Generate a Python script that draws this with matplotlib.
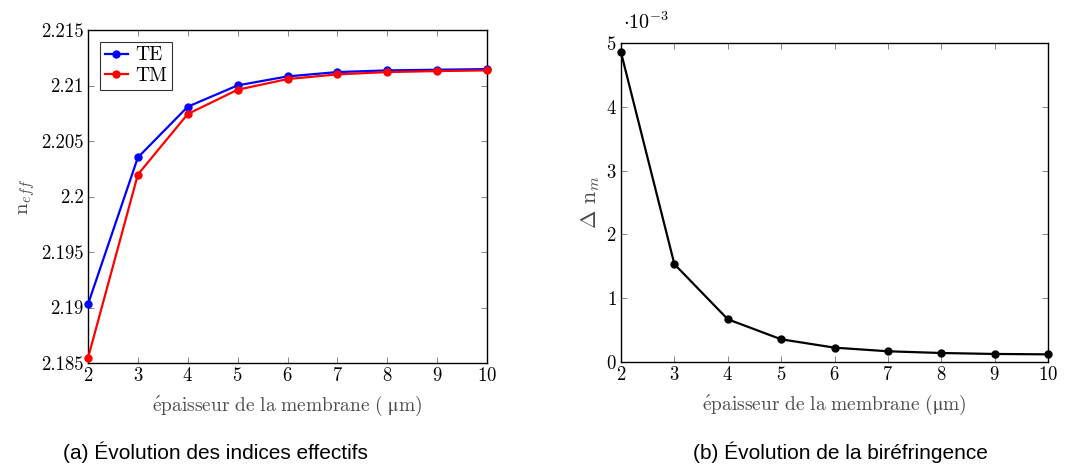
import matplotlib
matplotlib.use('Agg')
import matplotlib.pyplot as plt
from matplotlib.ticker import FuncFormatter

plt.rcParams['font.family'] = ['cmr10', 'STIXGeneral']
plt.rcParams['mathtext.fontset'] = 'cm'
plt.rcParams['axes.formatter.use_mathtext'] = True

# membrane thickness (um)
thickness = [2, 3, 4, 5, 6, 7, 8, 9, 10]
# effective indices
n_te = [2.19029, 2.20352, 2.20809, 2.21001, 2.21082, 2.21121, 2.21136, 2.21142, 2.21148]
n_tm = [2.18545, 2.20198, 2.20743, 2.20962, 2.21058, 2.21100, 2.21121, 2.21130, 2.21136]
# birefringence, in units of 1e-3
dn_e3 = [4.853, 1.534, 0.670, 0.356, 0.225, 0.168, 0.141, 0.126, 0.120]

fig = plt.figure(figsize=(10.82, 4.69), dpi=100)
W, H = 1082, 469

def style(ax):
    ax.tick_params(direction='in', top=True, right=True, length=4, width=0.6,
                   labelsize=13.5, pad=3, color='0.45')
    for s in ax.spines.values():
        s.set_linewidth(1.0)

fmt = FuncFormatter(lambda v, p: ('%.3f' % v).rstrip('0').rstrip('.'))
xlab = r'$\mathrm{\acute{e}paisseur\ de\ la\ membrane\ (%s\mu m)}$'

# (a)
ax1 = fig.add_axes([88 / W, 1 - 363 / H, (487 - 88) / W, (363 - 30) / H])
ax1.plot(thickness, n_te, '-o', color='blue', lw=1.6, ms=5, label='TE', clip_on=False, zorder=3)
ax1.plot(thickness, n_tm, '-o', color='red', lw=1.6, ms=5, label='TM', clip_on=False, zorder=3)
ax1.set_xlim(2, 10)
ax1.set_ylim(2.185, 2.215)
ax1.set_xticks(thickness)
ax1.set_yticks([2.185, 2.19, 2.195, 2.2, 2.205, 2.21, 2.215])
ax1.yaxis.set_major_formatter(fmt)
style(ax1)
ax1.set_ylabel(r'$\mathrm{n}_{eff}$', fontsize=15, color='0.3', labelpad=3)
ax1.set_xlabel((xlab % r'\ ').replace(r'\mu', 'μ'), fontsize=14, color='0.3', labelpad=6)
leg = ax1.legend(loc='upper left', fontsize=14, frameon=True, fancybox=False,
                 edgecolor='black', handlelength=1.2, borderpad=0.25,
                 labelspacing=0.15, handletextpad=0.4, borderaxespad=0.6)
leg.get_frame().set_linewidth(0.8)
leg.set_zorder(5)

# (b)
ax2 = fig.add_axes([621 / W, 1 - 362 / H, (1048 - 621) / W, (362 - 43) / H])
ax2.plot(thickness, dn_e3, '-o', color='black', lw=1.6, ms=5, clip_on=False, zorder=3)
ax2.set_xlim(2, 10)
ax2.set_ylim(0, 5)
ax2.set_xticks(thickness)
ax2.set_yticks([0, 1, 2, 3, 4, 5])
style(ax2)
ax2.set_ylabel(r'$\Delta\ \mathrm{n}_m$', fontsize=16, color='0.3', labelpad=3)
ax2.set_xlabel((xlab % '').replace(r'\mu', 'μ'), fontsize=14, color='0.3', labelpad=6)
ax2.text(0.005, 1.03, r'$\cdot 10^{-3}$', transform=ax2.transAxes, fontsize=14.5,
         ha='left', va='bottom')

fig.text(215 / W, 1 - 452 / H, '(a) Évolution des indices effectifs',
         family='Liberation Sans', fontsize=15, ha='center', va='center')
fig.text(840 / W, 1 - 452 / H, '(b) Évolution de la biréfringence',
         family='Liberation Sans', fontsize=15, ha='center', va='center')

fig.savefig('out.png', dpi=100)
